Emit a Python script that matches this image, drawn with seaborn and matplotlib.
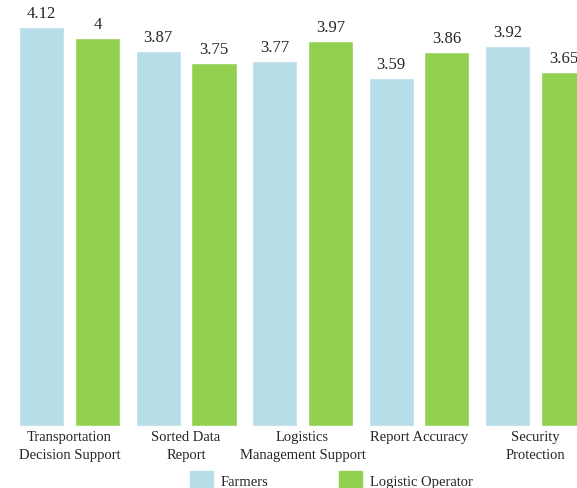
import pandas as pd
import matplotlib
matplotlib.use("Agg")
import matplotlib.pyplot as plt
import seaborn as sns

# --- data ---
categories = [
    "Transportation\nDecision Support",
    "Sorted Data\nReport",
    "Logistics\nManagement Support",
    "Report Accuracy",
    "Security\nProtection",
]
farmers = [4.12, 3.87, 3.77, 3.59, 3.92]
operators = [4.00, 3.75, 3.97, 3.86, 3.65]
groups = ["Farmers", "Logistic Operator"]
colors = ["#B7DDE8", "#92D050"]

df = pd.DataFrame({
    "Category": categories * 2,
    "Group": [groups[0]] * len(categories) + [groups[1]] * len(categories),
    "Score": farmers + operators,
})

sns.set_style("white")
plt.rcParams["font.family"] = ["Liberation Serif", "DejaVu Serif"]

fig = plt.figure(figsize=(5.77, 4.88), dpi=100)
ax = fig.add_axes([0, 0.128, 1, 0.872])

sns.barplot(
    data=df, x="Category", y="Score", hue="Group",
    order=categories, hue_order=groups, palette=colors,
    width=0.96, gap=0.195, saturation=1, ax=ax, legend=False,
)

for cont in ax.containers:
    ax.bar_label(cont, labels=[f"{v:g}" for v in cont.datavalues],
                 padding=3.5, fontsize=12)

ax.set_xlim(-0.597, 4.356)
ax.set_ylim(0, 4.396)
ax.set_xlabel("")
ax.set_ylabel("")
ax.set_yticks([])
ax.tick_params(axis="x", length=0, pad=4, labelsize=10.5)
for t in ax.get_xticklabels():
    t.set_linespacing(1.45)
sns.despine(ax=ax, left=True, bottom=True)

# legend sits partly below the canvas edge, as in the cropped original
handles = [plt.Rectangle((0, 0), 1, 1, color=c) for c in colors]
fig.legend(handles, groups, loc="upper left", bbox_to_anchor=(0.329, 0.035),
           ncol=2, frameon=False, fontsize=10.5, handlelength=1.58,
           handleheight=1.9, handletextpad=0.5, columnspacing=4.9,
           borderaxespad=0, borderpad=0)

fig.savefig("out.png", dpi=100)
